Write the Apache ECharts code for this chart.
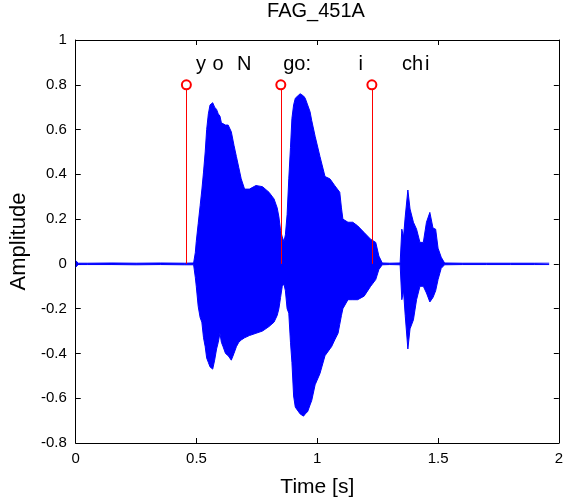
<!DOCTYPE html>
<html>
<head>
<meta charset="utf-8">
<script src="https://cdn.jsdelivr.net/npm/echarts@6/dist/echarts.min.js"></script>
<style>
html,body{margin:0;padding:0;background:#fff;}
#chart{width:566px;height:503px;}
</style>
</head>
<body>
<div id="chart"></div>
<script>
// ---- data ----
const titleText = 'FAG_451A';
const xTicks = [0, 0.5, 1, 1.5, 2];
const yTicks = [-0.8, -0.6, -0.4, -0.2, 0, 0.2, 0.4, 0.6, 0.8, 1];

// waveform envelope (time in s, upper and lower amplitude)
const timeS = [0.000,0.010,0.050,0.150,0.250,0.350,0.450,0.488,0.495,0.499,0.507,0.515,0.522,0.529,0.536,0.542,0.549,0.556,0.567,0.575,0.583,0.590,0.597,0.603,0.610,0.620,0.631,0.644,0.655,0.665,0.675,0.685,0.699,0.719,0.746,0.773,0.800,0.821,0.834,0.841,0.848,0.855,0.862,0.868,0.875,0.882,0.889,0.895,0.902,0.909,0.929,0.943,0.950,0.960,0.970,0.977,0.991,1.011,1.032,1.052,1.059,1.072,1.086,1.093,1.100,1.106,1.127,1.147,1.167,1.194,1.221,1.242,1.255,1.269,1.300,1.343,1.350,1.357,1.364,1.375,1.384,1.398,1.411,1.425,1.439,1.452,1.466,1.479,1.490,1.500,1.513,1.527,1.600,1.700,1.800,1.900,1.960];
const upperEnv = [0.015,0.003,0.003,0.004,0.003,0.004,0.003,0.004,0.05,0.10,0.18,0.26,0.33,0.41,0.50,0.60,0.67,0.71,0.72,0.70,0.69,0.67,0.66,0.63,0.625,0.62,0.62,0.59,0.53,0.48,0.43,0.38,0.334,0.334,0.35,0.345,0.32,0.29,0.25,0.21,0.15,0.12,0.10,0.13,0.22,0.38,0.52,0.65,0.71,0.74,0.76,0.75,0.74,0.71,0.68,0.64,0.57,0.48,0.39,0.38,0.37,0.35,0.33,0.32,0.25,0.20,0.186,0.186,0.17,0.14,0.11,0.096,0.035,0.004,0.003,0.004,0.155,0.12,0.21,0.33,0.245,0.186,0.155,0.096,0.096,0.186,0.23,0.16,0.155,0.07,0.03,0.004,0.003,0.003,0.003,0.003,0.003];
const lowerEnv = [-0.015,-0.003,-0.003,-0.003,-0.004,-0.003,-0.004,-0.004,-0.06,-0.10,-0.19,-0.24,-0.26,-0.33,-0.37,-0.42,-0.44,-0.46,-0.47,-0.43,-0.38,-0.35,-0.31,-0.35,-0.37,-0.40,-0.41,-0.43,-0.40,-0.37,-0.35,-0.34,-0.33,-0.32,-0.31,-0.30,-0.28,-0.26,-0.23,-0.20,-0.15,-0.10,-0.09,-0.12,-0.20,-0.22,-0.35,-0.44,-0.59,-0.64,-0.67,-0.68,-0.67,-0.66,-0.63,-0.61,-0.54,-0.49,-0.41,-0.38,-0.37,-0.34,-0.31,-0.27,-0.23,-0.20,-0.16,-0.16,-0.16,-0.144,-0.10,-0.07,-0.025,-0.004,-0.003,-0.004,-0.16,-0.12,-0.23,-0.38,-0.29,-0.25,-0.16,-0.10,-0.10,-0.13,-0.17,-0.15,-0.12,-0.07,-0.02,-0.004,-0.003,-0.003,-0.003,-0.003,-0.003];

// segment markers (stems)
const stemT = [0.458, 0.849, 1.226];
const stemV = [0.8, 0.8, 0.8];

// phoneme labels
const phoneText = ['y', 'o', 'N', 'go:', 'i', 'ch', 'i'];
const phoneT = [0.498, 0.566, 0.668, 0.859, 1.171, 1.351, 1.446];
const phoneY = 0.89;

// ---- chart ----
const FONT = "'Liberation Sans', Arial, Helvetica, sans-serif";
const chart = echarts.init(document.getElementById('chart'), null, {renderer: 'canvas'});

const fmt = v => String(Math.round(v * 10) / 10);

const axisCommon = {
  type: 'value',
  axisLine: {show: true, onZero: false, lineStyle: {color: '#000', width: 1}},
  axisTick: {show: true, inside: true, length: 5, lineStyle: {color: '#000', width: 1}},
  splitLine: {show: false}
};

const option = {
  animation: false,
  backgroundColor: '#fff',
  textStyle: {fontFamily: FONT},
  title: {
    text: titleText, left: 311, top: -4, textAlign: 'center',
    textStyle: {fontFamily: FONT, fontSize: 20, fontWeight: 'normal', color: '#000'}
  },
  grid: {left: 73, right: 3, top: 40, bottom: 57, containLabel: false},
  xAxis: [
    Object.assign({}, axisCommon, {
      position: 'bottom', min: xTicks[0], max: xTicks[xTicks.length - 1], interval: 0.5,
      axisLabel: {show: true, color: '#000', fontSize: 15, fontFamily: FONT, margin: 8, formatter: fmt},
      name: 'Time [s]', nameLocation: 'middle', nameGap: 34,
      nameTextStyle: {fontSize: 21, color: '#000', fontFamily: FONT}
    }),
    Object.assign({}, axisCommon, {
      position: 'top', min: xTicks[0], max: xTicks[xTicks.length - 1], interval: 0.5,
      axisLabel: {show: false}
    })
  ],
  yAxis: [
    Object.assign({}, axisCommon, {
      position: 'left', min: yTicks[0], max: yTicks[yTicks.length - 1], interval: 0.2,
      axisLabel: {show: true, color: '#000', fontSize: 15, fontFamily: FONT, margin: 9, formatter: fmt},
      name: 'Amplitude', nameLocation: 'middle', nameGap: 38,
      nameTextStyle: {fontSize: 22, color: '#000', fontFamily: FONT}
    }),
    Object.assign({}, axisCommon, {
      position: 'right', min: yTicks[0], max: yTicks[yTicks.length - 1], interval: 0.2,
      axisLabel: {show: false}
    })
  ],
  series: [
    {
      name: 'stemLines', type: 'scatter', xAxisIndex: 0, yAxisIndex: 0,
      data: [], z: 1,
      markLine: {
        silent: true, symbol: ['none', 'none'], label: {show: false},
        lineStyle: {color: '#ff0000', width: 1, type: 'solid', opacity: 1},
        emphasis: {disabled: true},
        data: stemT.map((t, i) => [{coord: [t, 0]}, {coord: [t, stemV[i]]}])
      }
    },
    {
      name: 'upper', type: 'line', xAxisIndex: 0, yAxisIndex: 0,
      data: timeS.map((t, i) => [t, upperEnv[i]]),
      symbol: 'none', silent: true,
      lineStyle: {color: '#0000ff', width: 1},
      areaStyle: {color: '#0000ff', opacity: 1, origin: 'auto'},
      z: 2
    },
    {
      name: 'lower', type: 'line', xAxisIndex: 0, yAxisIndex: 0,
      data: timeS.map((t, i) => [t, lowerEnv[i]]),
      symbol: 'none', silent: true,
      lineStyle: {color: '#0000ff', width: 1},
      areaStyle: {color: '#0000ff', opacity: 1, origin: 'auto'},
      z: 2
    },
    {
      name: 'stemHeads', type: 'scatter', xAxisIndex: 0, yAxisIndex: 0,
      data: stemT.map((t, i) => [t, stemV[i]]),
      symbol: 'emptyCircle', symbolSize: 9,
      itemStyle: {color: '#ff0000', borderColor: '#ff0000', borderWidth: 1, opacity: 1},
      z: 5
    },
    {
      name: 'phones', type: 'scatter', xAxisIndex: 0, yAxisIndex: 0,
      data: phoneT.map((t, i) => ({value: [t, phoneY], name: phoneText[i]})),
      symbolSize: 0, silent: true,
      itemStyle: {opacity: 1},
      label: {
        show: true, position: [0, 0], align: 'left', verticalAlign: 'middle',
        formatter: p => p.name, color: '#000', fontSize: 20, fontFamily: FONT, opacity: 1
      },
      z: 6
    }
  ]
};
chart.setOption(option);
</script>
</body>
</html>
